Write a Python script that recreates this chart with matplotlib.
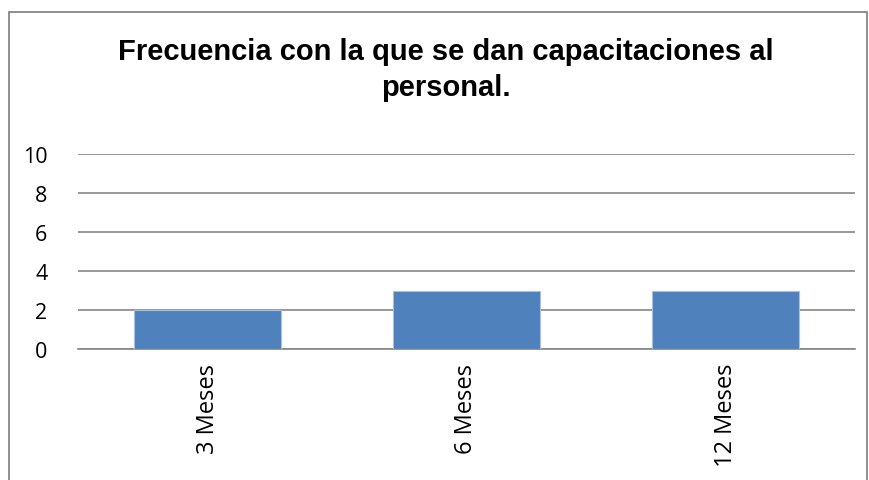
import matplotlib.pyplot as plt
from matplotlib.patches import Rectangle

categorias = ['3 Meses', '6 Meses', '12 Meses']
valores = [2, 3, 3]
yticks = [0, 2, 4, 6, 8, 10]
titulo = 'Frecuencia con la que se dan capacitaciones al\npersonal.'

W, H = 869, 481
fig = plt.figure(figsize=(W / 100, H / 100), dpi=100)

# marco del grafico
fig.patches.append(Rectangle((9 / W, -0.05), 858 / W, 1.05 - 13 / H,
                             transform=fig.transFigure, fill=False,
                             edgecolor='#878787', linewidth=1.3))

ax = fig.add_axes([78 / W, 1 - 350 / H, 777 / W, 195 / H])
x = range(len(categorias))
ax.bar(x, valores, width=0.57, color='#4F81BD', edgecolor='#A7C0DE', linewidth=0.8, zorder=3)

ax.set_xlim(-0.5, len(categorias) - 0.5)
ax.set_ylim(0, 10)
ax.set_yticks(yticks)
ax.set_yticklabels([str(v) for v in yticks], family='Open Sans', fontsize=15.5)
ax.set_xticks(list(x))
ax.set_xticklabels(categorias, rotation=90, family='Open Sans', fontsize=17)
ax.grid(axis='y', color='#868686', linewidth=1.2, zorder=0)
ax.tick_params(axis='y', length=0, pad=22)
ax.tick_params(axis='x', length=0, pad=10)
for s in ['top', 'right', 'left']:
    ax.spines[s].set_visible(False)
ax.spines['bottom'].set_color('#868686')
ax.spines['bottom'].set_linewidth(1.2)

fig.text(0.513, 1 - 38 / H, titulo, ha='center', va='top', family='Liberation Sans',
         fontweight='bold', fontsize=21, linespacing=1.35)

plt.savefig('out.png', dpi=100)
